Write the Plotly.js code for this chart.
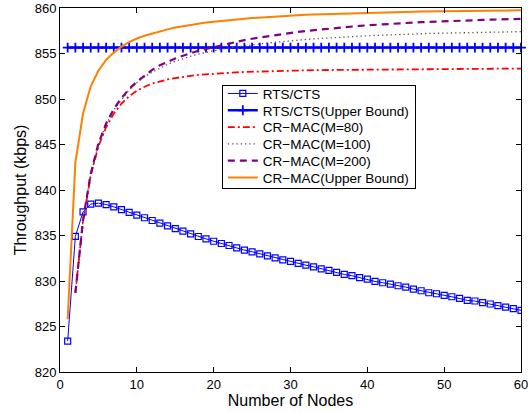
<!DOCTYPE html>
<html>
<head>
<meta charset="utf-8">
<script src="https://cdn.plot.ly/plotly-3.0.1.min.js"></script>
<style>html,body{margin:0;padding:0;background:#fff;}#chart{width:528px;height:412px;}</style>
</head>
<body>
<div id="chart"></div>
<script>
const nodes = [1,2,3,4,5,6,7,8,9,10,11,12,13,14,15,16,17,18,19,20,21,22,23,24,25,26,27,28,29,30,31,32,33,34,35,36,37,38,39,40,41,42,43,44,45,46,47,48,49,50,51,52,53,54,55,56,57,58,59,60];
const nodesCr = [2,3,4,5,6,7,8,9,10,11,12,13,14,15,16,17,18,19,20,21,22,23,24,25,26,27,28,29,30,31,32,33,34,35,36,37,38,39,40,41,42,43,44,45,46,47,48,49,50,51,52,53,54,55,56,57,58,59,60];

const rtsCts = [823.4,834.9,837.6,838.45,838.55,838.4,838.15,837.85,837.55,837.25,
  836.95,836.65,836.35,836.05,835.76,835.47,835.18,834.89,834.63,834.37,
  834.12,833.9,833.64,833.39,833.21,832.99,832.77,832.55,832.33,832.15,
  831.93,831.74,831.56,831.34,831.16,830.94,830.72,830.58,830.36,830.21,
  829.95,829.81,829.66,829.48,829.33,829.11,828.93,828.71,828.6,828.42,
  828.27,828.09,827.87,827.8,827.62,827.47,827.29,827.14,826.96,826.78];

const rtsCtsUpper = [855.65,855.65,855.65,855.65,855.65,855.65,855.65,855.65,855.65,855.65,
  855.65,855.65,855.65,855.65,855.65,855.65,855.65,855.65,855.65,855.65,
  855.65,855.65,855.65,855.65,855.65,855.65,855.65,855.65,855.65,855.65,
  855.65,855.65,855.65,855.65,855.65,855.65,855.65,855.65,855.65,855.65,
  855.65,855.65,855.65,855.65,855.65,855.65,855.65,855.65,855.65,855.65,
  855.65,855.65,855.65,855.65,855.65,855.65,855.65,855.65,855.65,855.65];

const crM80 = [828.7,836.6,841.6,844.8,846.9,848.4,849.5,850.3,850.9,
  851.35,851.7,851.95,852.15,852.3,852.45,852.55,852.65,852.72,852.78,
  852.84,852.89,852.93,852.97,853.0,853.03,853.06,853.08,853.1,853.12,
  853.14,853.15,853.17,853.18,853.19,853.2,853.21,853.22,853.23,853.24,
  853.25,853.25,853.26,853.27,853.27,853.28,853.28,853.29,853.29,853.3,
  853.3,853.31,853.31,853.32,853.32,853.32,853.33,853.33,853.34,853.34];

const crM100 = [828.7,836.7,841.75,845.0,847.2,848.8,849.9,851.0,851.8,
  852.45,852.95,853.4,853.8,854.15,854.45,854.7,854.93,855.13,855.3,
  855.46,855.6,855.73,855.85,855.96,856.06,856.15,856.24,856.32,856.4,
  856.47,856.54,856.6,856.66,856.72,856.77,856.82,856.87,856.91,856.95,
  856.99,857.03,857.06,857.09,857.12,857.15,857.18,857.2,857.22,857.24,
  857.26,857.28,857.3,857.32,857.34,857.36,857.37,857.38,857.39,857.4];

const crM200 = [828.7,836.7,841.8,845.1,847.3,848.9,850.1,851.1,851.9,
  852.6,853.2,853.7,854.1,854.45,854.75,855.05,855.3,855.5,855.7,
  855.92,856.12,856.3,856.47,856.62,856.76,856.9,857.03,857.15,857.27,
  857.38,857.48,857.57,857.66,857.74,857.82,857.9,857.97,858.04,858.1,
  858.16,858.21,858.26,858.31,858.36,858.4,858.44,858.48,858.52,858.55,
  858.58,858.61,858.64,858.67,858.69,858.72,858.74,858.76,858.78,858.8];

const crUpper = [825.8,843.0,848.4,851.4,853.1,854.3,855.1,855.75,856.25,856.65,
  856.95,857.2,857.45,857.65,857.85,858.0,858.15,858.3,858.4,858.5,
  858.6,858.68,858.76,858.83,858.9,858.96,859.02,859.07,859.12,859.17,
  859.21,859.25,859.29,859.32,859.35,859.38,859.41,859.44,859.46,859.48,
  859.5,859.52,859.54,859.56,859.58,859.6,859.61,859.62,859.63,859.65,
  859.66,859.67,859.68,859.69,859.7,859.71,859.72,859.73,859.74,859.75];

const seriesNames = ['RTS/CTS','RTS/CTS(Upper Bound)','CR\u2212MAC(M=80)','CR\u2212MAC(M=100)','CR\u2212MAC(M=200)','CR\u2212MAC(Upper Bound)'];
const xTicks = [0,10,20,30,40,50,60];
const yTicks = [820,825,830,835,840,845,850,855,860];

const FONT = 'Liberation Sans, Arial, sans-serif';

const traces = [
  {x: nodes, y: rtsCts, name: seriesNames[0], type: 'scatter', mode: 'lines+markers',
   line: {color: '#0000ff', width: 1},
   marker: {symbol: 'square-open', size: 6, color: '#0000ff', line: {width: 1.2}}},
  {x: nodes, y: rtsCtsUpper, name: seriesNames[1], type: 'scatter', mode: 'lines+markers',
   line: {color: '#0000ff', width: 2.5},
   marker: {symbol: 'cross-thin-open', size: 7, color: '#0000ff', line: {width: 1.8, color: '#0000ff'}}, cliponaxis: false},
  {x: nodesCr, y: crM80, name: seriesNames[2], type: 'scatter', mode: 'lines',
   line: {color: '#ff0000', width: 1.8, dash: '7px,3px,2px,3px'}},
  {x: nodesCr, y: crM100, name: seriesNames[3], type: 'scatter', mode: 'lines',
   line: {color: '#555555', width: 1.3, dash: '1.3px,3px'}},
  {x: nodesCr, y: crM200, name: seriesNames[4], type: 'scatter', mode: 'lines',
   line: {color: '#800080', width: 2.2, dash: '7px,5px'}},
  {x: nodes, y: crUpper, name: seriesNames[5], type: 'scatter', mode: 'lines',
   line: {color: '#ff8000', width: 2}}
];

const axisCommon = {
  showline: true, linecolor: '#000', linewidth: 1, mirror: 'ticks',
  ticks: 'inside', ticklen: 5, tickcolor: '#000', tickwidth: 1,
  showgrid: false, zeroline: false, ticklabeloverflow: 'allow',
  tickfont: {family: FONT, size: 13, color: '#000'}
};

const layout = {
  width: 528, height: 412,
  margin: {l: 60, r: 7, t: 8, b: 40},
  paper_bgcolor: '#fff', plot_bgcolor: '#fff',
  font: {family: FONT, size: 13, color: '#000'},
  showlegend: true,
  legend: {x: 0.351, y: 0.788, xanchor: 'left', yanchor: 'top',
    bordercolor: '#000', borderwidth: 1, bgcolor: '#fff',
    font: {family: FONT, size: 13.5, color: '#000'},
    tracegroupgap: 0},
  xaxis: Object.assign({}, axisCommon, {range: [0, 60], tickvals: xTicks, ticktext: xTicks.map(String),
    title: {text: 'Number of Nodes', font: {size: 16}, standoff: 0}}),
  yaxis: Object.assign({}, axisCommon, {range: [820, 860], tickvals: yTicks, ticktext: yTicks.map(String),
    title: {text: 'Throughput (kbps)', font: {size: 16}, standoff: 4}})
};

Plotly.newPlot('chart', traces, layout, {displayModeBar: false, staticPlot: true}).then(function () {
  // tighten legend row spacing to match the reference
  const leg = document.querySelector('.legend');
  if (!leg) return;
  const items = leg.querySelectorAll('.traces');
  if (items.length < 2) return;
  const parse = function (g) {
    const m = /translate\(\s*([-\d.]+)[ ,]+([-\d.]+)\s*\)/.exec(g.getAttribute('transform') || '');
    return m ? [parseFloat(m[1]), parseFloat(m[2])] : [0, 0];
  };
  const p0 = parse(items[0]);
  const step = 16.8;
  const y0 = p0[1] - 8;
  items.forEach(function (g, i) {
    const p = parse(g);
    g.setAttribute('transform', 'translate(' + p[0] + ',' + (y0 + i * step) + ')');
  });
  const bg = leg.querySelector('rect.bg');
  if (bg) {
    bg.setAttribute('height', 103);
  }
});
</script>
</body>
</html>
